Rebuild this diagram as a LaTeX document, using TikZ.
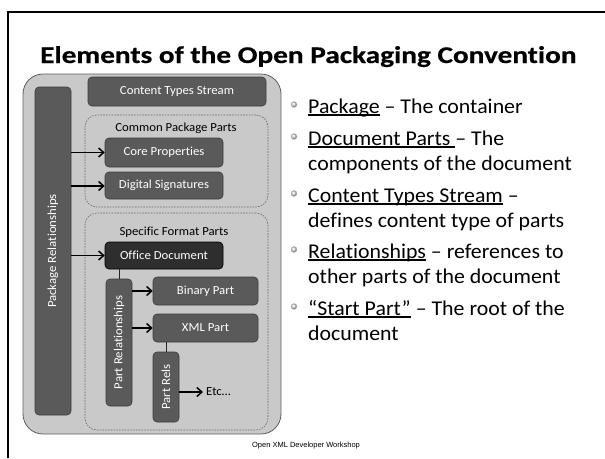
\documentclass[tikz,border=0pt]{standalone}
\usepackage{fontspec}
\setmainfont{Carlito}[Ligatures={TeX,NoCommon}]
\newfontfamily\titlefont{Carlito}[Ligatures={TeX,NoCommon}, FakeStretch=1.22,
  BoldFont={Carlito Bold}, BoldFeatures={FakeStretch=1.22, FakeBold=0.6}]
\newfontfamily\bodyfont{Carlito}[Ligatures={TeX,NoCommon}, FakeStretch=1.04]
\newfontfamily\boxfont{Carlito}[Ligatures={TeX,NoCommon}, FakeStretch=1.04]
\newfontfamily\footfont{Liberation Sans}
\usetikzlibrary{arrows.meta}

\definecolor{partfill}{HTML}{5A5A5A}
\definecolor{partline}{HTML}{3C3C3C}
\definecolor{rootfill}{HTML}{2E2E2E}
\definecolor{pkgfill}{HTML}{C9C9C9}
\definecolor{pkgline}{HTML}{5E5E5E}
\definecolor{groupline}{HTML}{6A6A6A}

% underline drawn as a firm rule below the word
\newcommand{\ulbar}[1]{\setbox0\hbox{#1}\rlap{\rule[-2.6pt]{\wd0}{1.3pt}}\box0\relax}

\tikzset{
  part/.style={draw=partline, fill=partfill, rounded corners=4pt, line width=0.6pt,
    text=white, font=\boxfont\fontsize{12.3}{14}\selectfont, inner sep=0pt},
  rootpart/.style={part, fill=rootfill, draw=black},
  group/.style={draw=groupline, dashed, dash pattern=on 1.6pt off 1.2pt,
    rounded corners=12pt, line width=0.6pt, inner sep=0pt},
  grouplabel/.style={font=\boxfont\fontsize{12.3}{14}\selectfont, text=black, inner sep=0pt},
  relarrow/.style={line width=1.6pt, -{Straight Barb[length=5pt,width=9pt,line width=1.5pt]}},
  link/.style={line width=1pt, draw=black!85},
  bullettext/.style={anchor=base west, inner sep=0pt, font=\bodyfont\fontsize{21}{25}\selectfont},
  dot/.style={circle, inner sep=0pt, minimum size=6pt, draw=black!25, line width=0.3pt,
    ball color=black!12},
}

\begin{document}
\begin{tikzpicture}[x=1pt, y=-1pt]
  \useasboundingbox (0,0) rectangle (605,458);
  \fill[white] (0,0) rectangle (605,458);

  % slide frame
  \draw[line width=2pt, black] (7.5,458) -- (7.5,12) -- (605,12);

  % title
  \node[anchor=base west, inner sep=0pt, font=\titlefont\bfseries\fontsize{24}{28}\selectfont]
    (title) at (40,63) {Elements of the Open Packaging Convention};

  % package container
  \node[draw=pkgline, fill=pkgfill, rounded corners=20pt, line width=0.8pt,
        minimum width=258pt, minimum height=360pt, inner sep=0pt]
    (package) at (152,254) {};

  \node[part, minimum width=36pt, minimum height=328pt] (pkgrel) at (53,251)
    {\rotatebox{90}{Package Relationships}};
  \node[part, minimum width=178pt, minimum height=29pt] (cts) at (177,91.5)
    {Content Types Stream};

  % common package parts
  \node[group, minimum width=183pt, minimum height=92pt] (common) at (176.5,161) {};
  \node[grouplabel] (commonlbl) at (176,128) {Common Package Parts};
  \node[part, minimum width=118pt, minimum height=29pt] (core) at (164,152.5)
    {Core Properties};
  \node[part, minimum width=118pt, minimum height=27pt] (digsig) at (164,185.5)
    {Digital Signatures};

  % specific format parts
  \node[group, minimum width=183pt, minimum height=217pt] (specific) at (176.5,321.5) {};
  \node[grouplabel] (specificlbl) at (174,232) {Specific Format Parts};
  \node[rootpart, minimum width=118pt, minimum height=27pt] (office) at (164,255.5)
    {Office Document};
  \node[part, minimum width=26pt, minimum height=127pt] (partrel) at (119,342.5)
    {\rotatebox{90}{Part Relationships}};
  \node[part, minimum width=105pt, minimum height=28pt] (binary) at (205.5,291)
    {Binary Part};
  \node[part, minimum width=105pt, minimum height=28pt] (xmlpart) at (205.5,328)
    {XML Part};
  \node[part, minimum width=26pt, minimum height=70pt] (partrels) at (166,387)
    {\rotatebox{90}{Part Rels}};
  \node[anchor=west, inner sep=0pt, font=\boxfont\fontsize{12.3}{14}\selectfont] (etc) at (206,392)
    {Etc\ldots};
  \coordinate (etcin) at (203,392);

  % relationship arrows
  \draw[relarrow] (pkgrel.east |- core.west) -- (core.west);
  \draw[relarrow] (pkgrel.east |- 0,186) -- (digsig.west |- 0,186);
  \draw[relarrow] (pkgrel.east |- office.west) -- (office.west);
  \draw[relarrow] (partrel.east |- binary.west) -- (binary.west);
  \draw[relarrow] (partrel.east |- xmlpart.west) -- (xmlpart.west);
  \draw[relarrow] (partrels.east |- etcin) -- (etcin);

  % owner links
  \draw[link] (office.south -| partrel.north) -- (partrel.north);
  \draw[link] (xmlpart.south -| partrels.north) -- (partrels.north);

  % bullet list
  \foreach \y in {113,145,202,258,315}
    \node[dot] at (294,\y-8.5) {};
  \node[bullettext] (l1) at (308,113) {\ulbar{Package} – The container};
  \node[bullettext] (l2) at (308,145) {\ulbar{Document Parts\ }– The};
  \node[bullettext] (l3) at (308,170) {components of the document};
  \node[bullettext] (l4) at (308,202) {\ulbar{Content Types Stream} –};
  \node[bullettext] (l5) at (308,227) {defines content type of parts};
  \node[bullettext] (l6) at (308,258) {\ulbar{Relationships} – references to};
  \node[bullettext] (l7) at (308,283) {other parts of the document};
  \node[bullettext] (l8) at (308,315) {\ulbar{“Start Part”} – The root of the};
  \node[bullettext] (l9) at (308,340) {document};

  % footer
  \node[anchor=base, inner sep=0pt, font=\footfont\fontsize{7.5}{9}\selectfont]
    (footer) at (306,447) {Open XML Developer Workshop};
\end{tikzpicture}
\end{document}
